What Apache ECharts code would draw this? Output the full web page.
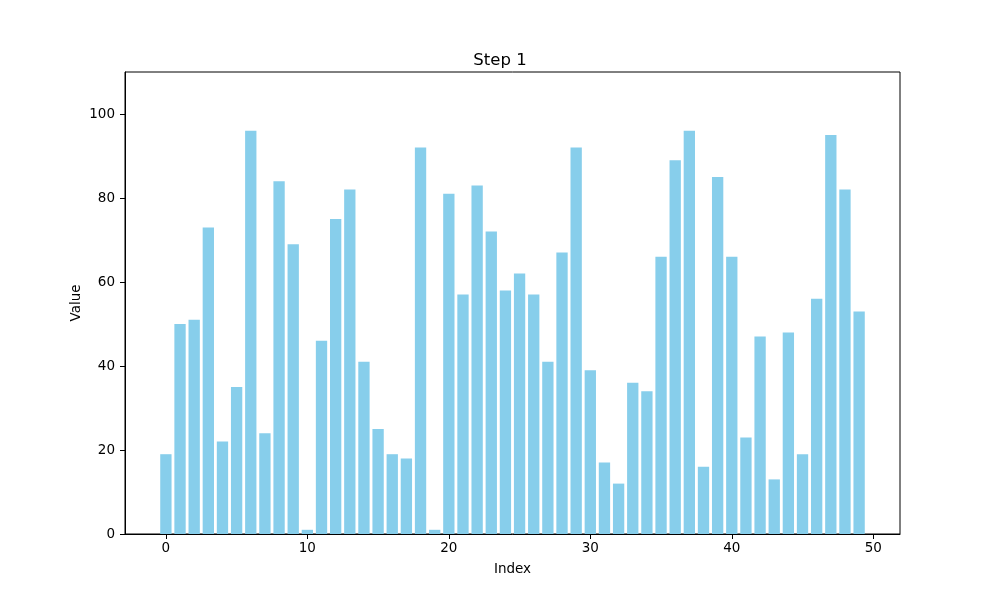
<!DOCTYPE html>
<html>
<head>
<meta charset="utf-8">
<script src="https://cdn.jsdelivr.net/npm/echarts@6/dist/echarts.min.js"></script>
<style>html,body{margin:0;padding:0;background:#fff}#c{width:1000px;height:600px}</style>
</head>
<body>
<div id="c"></div>
<script>
const titleText = "Step 1";
const xName = "Index";
const yName = "Value";
const indices = Array.from({length: 50}, (_, i) => i);
const values = [19,50,51,73,22,35,96,24,84,69,1,46,75,82,41,25,19,18,92,1,81,57,83,72,58,62,57,41,67,92,39,17,12,36,34,66,89,96,16,85,66,23,47,13,48,19,56,95,82,53];
const xTicks = [0,10,20,30,40,50];
const yTicks = [0,20,40,60,80,100];

const font = "DejaVu Sans";
const chart = echarts.init(document.getElementById('c'), null, {renderer: 'canvas'});
const xMin = -0.4 - 0.05 * 49.8, xMax = 49.4 + 0.05 * 49.8;
const plotW = 775;
const barPx = 0.8 * plotW / (xMax - xMin);
chart.setOption({
  animation: false,
  title: {text: titleText, left: 'center', top: 47, textStyle: {fontFamily: font, fontSize: 16.5, fontWeight: 'normal', color: '#000'}},
  grid: {left: 125, right: 100, top: 72, bottom: 66, show: true, borderColor: '#000', borderWidth: 1, backgroundColor: 'transparent'},
  xAxis: {
    type: 'value', min: xMin, max: xMax,
    name: xName, nameLocation: 'middle', nameGap: 28, nameMoveOverlap: false,
    nameTextStyle: {fontFamily: font, fontSize: 13.5, color: '#000'},
    axisLine: {show: true, onZero: false, lineStyle: {color: '#000', width: 1}},
    axisTick: {show: true, length: 5, lineStyle: {color: '#000'}, customValues: xTicks},
    axisLabel: {fontFamily: font, fontSize: 13.5, color: '#000', margin: 7, customValues: xTicks},
    splitLine: {show: false}
  },
  yAxis: {
    type: 'value', min: 0, max: 110,
    name: yName, nameLocation: 'middle', nameGap: 42, nameRotate: 90, nameMoveOverlap: false,
    nameTextStyle: {fontFamily: font, fontSize: 13.5, color: '#000'},
    axisLine: {show: true, onZero: false, lineStyle: {color: '#000', width: 1}},
    axisTick: {show: true, length: 5, lineStyle: {color: '#000'}, customValues: yTicks},
    axisLabel: {fontFamily: font, fontSize: 13.5, color: '#000', margin: 10, customValues: yTicks},
    splitLine: {show: false}
  },
  series: [{
    type: 'bar',
    data: indices.map((i, k) => [i, values[k]]),
    barWidth: barPx,
    itemStyle: {color: '#87CEEB'}
  }]
});
</script>
</body>
</html>
